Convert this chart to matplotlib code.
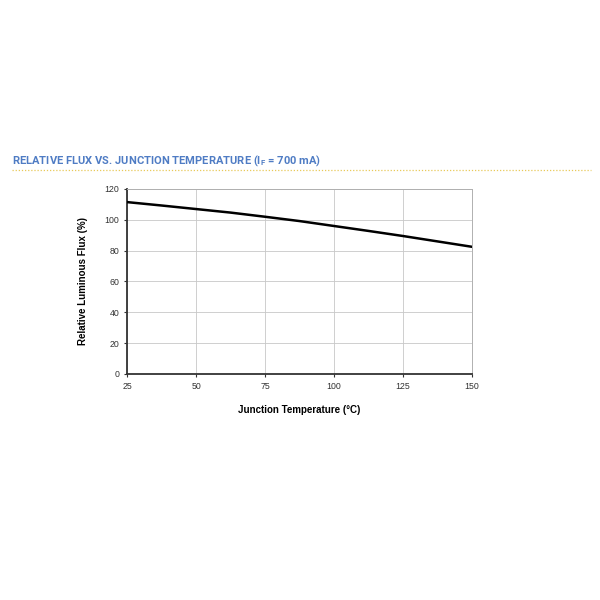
import numpy as np
import matplotlib
matplotlib.use('Agg')
import matplotlib.pyplot as plt
from matplotlib.lines import Line2D

# data
temp = [25, 37.5, 50, 62.5, 75, 87.5, 100, 112.5, 125, 137.5, 150]
flux = [111.5, 109.3, 107.0, 104.7, 102.0, 99.2, 96.0, 92.8, 89.5, 86.0, 82.5]
x_ticks = [25, 50, 75, 100, 125, 150]
y_ticks = [0, 20, 40, 60, 80, 100, 120]

plt.rcParams['font.family'] = ['Liberation Sans', 'DejaVu Sans']

fig = plt.figure(figsize=(6, 6), dpi=100)
ax = fig.add_axes([0.2117, 0.3767, 0.575, 0.3083])

ax.plot(temp, flux, color='black', linewidth=1.8, zorder=3)

ax.set_xlim(25, 150)
ax.set_ylim(0, 120)
ax.set_xticks(x_ticks)
ax.set_yticks(y_ticks)
ax.grid(True, color='#c8c8c8', linewidth=0.6)
ax.tick_params(labelsize=6.3, length=2, width=0.8, colors='#333333')
ax.tick_params(axis='x', pad=4)

for side in ['top', 'right']:
    ax.spines[side].set_color('#b0b0b0')
    ax.spines[side].set_linewidth(0.7)
for side in ['left', 'bottom']:
    ax.spines[side].set_color('#333333')
    ax.spines[side].set_linewidth(1.3)

ax.set_xlabel('Junction Temperature (°C)', fontsize=7, fontweight='bold', labelpad=10)
ax.set_ylabel('Relative Luminous Flux (%)', fontsize=7, fontweight='bold', labelpad=12)

fig.text(0.02, 0.733, r'RELATIVE FLUX VS. JUNCTION TEMPERATURE (I$_\mathregular{F}$ = 700 mA)',
         fontsize=8.0, fontweight='bold', color='#4f7cc4', family=['Roboto', 'DejaVu Sans'],
         va='center', ha='left')
fig.add_artist(Line2D([0.02, 0.985], [0.717, 0.717], color='#e8c95a',
                      linewidth=0.9, linestyle=(0, (1, 1.5))))

fig.savefig('out.png', dpi=100)
